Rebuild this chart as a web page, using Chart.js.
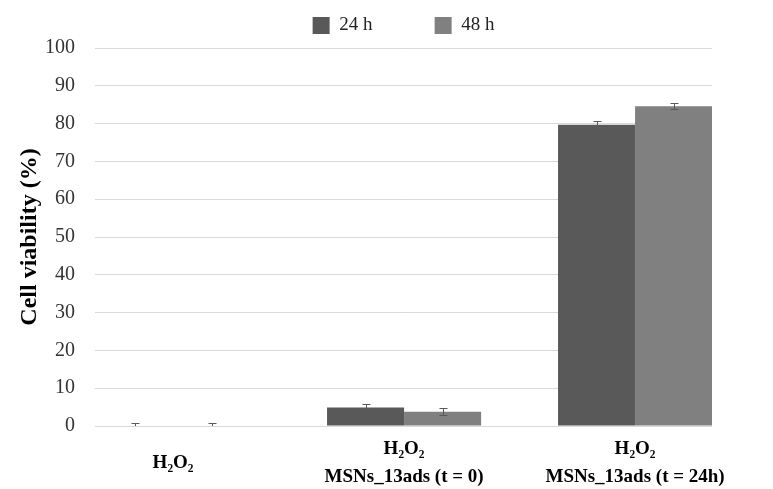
<!DOCTYPE html>
<html>
<head>
<meta charset="utf-8">
<script src="https://cdn.jsdelivr.net/npm/chart.js@4"></script>
<style>
    body { margin: 0; background: #fff; }
</style>
</head>
<body>
<canvas id="chart" width="773" height="489"></canvas>
<script>
// Data
const categories = [
    ['H\u2082O\u2082'],
    ['H\u2082O\u2082', 'MSNs_13ads (t = 0)'],
    ['H\u2082O\u2082', 'MSNs_13ads (t = 24h)']
];
const seriesNames = ['24 h', '48 h'];
const values24 = [0, 4.9, 79.7];
const values48 = [0, 3.8, 84.6];
const errors24 = [0.7, 0.9, 0.95];
const errors48 = [0.7, 0.9, 0.8];
const yTicks = [0, 10, 20, 30, 40, 50, 60, 70, 80, 90, 100];

const serif = '"Liberation Serif", "Times New Roman", serif';

// Error bars drawn through the y scale
const errorBars = {
    id: 'errorBars',
    afterDatasetsDraw(chart) {
        const ctx = chart.ctx;
        const y = chart.scales.y;
        const area = chart.chartArea;
        ctx.save();
        ctx.strokeStyle = '#595959';
        ctx.lineWidth = 1;
        chart.data.datasets.forEach((ds, d) => {
            chart.getDatasetMeta(d).data.forEach((bar, i) => {
                const v = ds.data[i].y;
                const e = ds.errors[i];
                const top = Math.round(y.getPixelForValue(v + e)) + 0.5;
                const bottom = Math.min(Math.round(y.getPixelForValue(v - e)) + 0.5, area.bottom);
                const x = Math.round(bar.x) + 0.5;
                ctx.beginPath();
                ctx.moveTo(x, top);
                ctx.lineTo(x, bottom);
                ctx.moveTo(x - 4, top);
                ctx.lineTo(x + 4, top);
                if (bottom < area.bottom) {
                    ctx.moveTo(x - 4, bottom);
                    ctx.lineTo(x + 4, bottom);
                }
                ctx.stroke();
            });
        });
        ctx.restore();
    }
};

// a bit more room under the legend
const legendRoom = {
    id: 'legendRoom',
    beforeLayout(chart) {
        const lg = chart.legend;
        if (lg && !lg._roomPatched) {
            const fit = lg.fit;
            lg.fit = function() {
                fit.call(this);
                this.height += 3;
            };
            lg._roomPatched = true;
        }
    }
};

const chart = new Chart(document.getElementById('chart'), {
    type: 'bar',
    data: {
        datasets: [{
            label: seriesNames[0],
            data: values24.map((v, i) => ({ x: i, y: v })),
            errors: errors24,
            backgroundColor: '#595959',
            borderWidth: 0
        }, {
            label: seriesNames[1],
            data: values48.map((v, i) => ({ x: i, y: v })),
            errors: errors48,
            backgroundColor: '#808080',
            borderWidth: 0
        }]
    },
    options: {
        responsive: false,
        animation: false,
        categoryPercentage: 0.667,
        barPercentage: 1,
        layout: {
            padding: { top: 6, right: 61, left: 0, bottom: 0 }
        },
        scales: {
            x: {
                type: 'linear',
                bounds: 'data',
                offset: false,
                min: -0.338,
                max: 2.333,
                grid: { display: false, offset: false },
                border: { display: false },
                afterBuildTicks(scale) {
                    scale.ticks = categories.map((c, i) => ({ value: i }));
                },
                afterFit(scale) {
                    scale.height = 63;
                },
                ticks: {
                    autoSkip: false,
                    maxRotation: 0,
                    crossAlign: 'center',
                    padding: 15,
                    color: '#000',
                    font: { family: serif, size: 19, weight: 'bold', lineHeight: 1.5 },
                    callback: (v) => categories[v]
                }
            },
            y: {
                min: 0,
                max: 100,
                afterBuildTicks(scale) {
                    scale.ticks = yTicks.map(v => ({ value: v }));
                },
                afterFit(scale) {
                    scale.width = 95;
                },
                grid: { color: '#d9d9d9', drawTicks: false },
                border: { display: false },
                ticks: {
                    padding: 20,
                    color: '#333',
                    font: { family: serif, size: 20 }
                },
                title: {
                    display: true,
                    text: 'Cell viability (%)',
                    color: '#000',
                    padding: { top: 15, bottom: 0 },
                    font: { family: serif, size: 24, weight: 'bold' }
                }
            }
        },
        plugins: {
            legend: {
                position: 'top',
                fullSize: false,
                labels: {
                    boxWidth: 17,
                    boxHeight: 17,
                    padding: 10,
                    color: '#222',
                    font: { family: serif, size: 19 },
                    generateLabels(chart) {
                        const items = Chart.defaults.plugins.legend.labels.generateLabels(chart);
                        items[0].text += '           ';
                        return items;
                    }
                }
            },
            tooltip: { enabled: false }
        }
    },
    plugins: [errorBars, legendRoom]
});
</script>
</body>
</html>
